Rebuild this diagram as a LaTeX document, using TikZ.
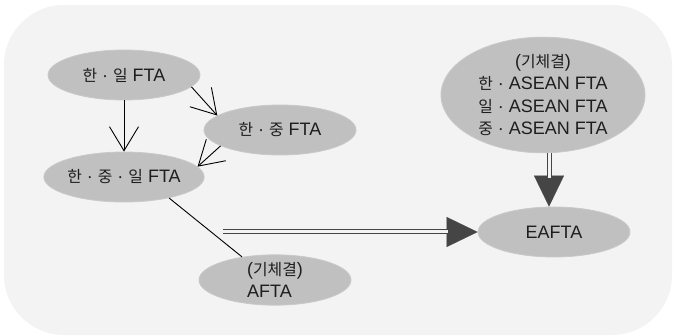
\documentclass[tikz,border=0pt]{standalone}
\usepackage{fontspec}
\setmainfont{Liberation Sans}
\newfontfamily\kr{Noto Sans CJK KR}[Scale=0.88]
\usetikzlibrary{arrows.meta,shapes.geometric}
\definecolor{bgc}{HTML}{F3F3F3}
\definecolor{ellfill}{HTML}{C0C0C0}
\definecolor{elldraw}{HTML}{C9C9C9}
\definecolor{txt}{HTML}{1E1E1E}
\definecolor{dbl}{HTML}{454545}
\begin{document}
\begin{tikzpicture}[x=1pt,y=-1pt,
  ell/.style={ellipse, fill=ellfill, draw=elldraw, line width=0.8pt, inner sep=0pt,
    minimum width=152pt, minimum height=50pt, text=txt, align=center,
    font=\fontsize{18}{22.5}\selectfont},
  openarr/.style={line width=0.9pt, draw=black, -{Straight Barb[length=24pt,width=29pt,line width=0.9pt]}},
  plainline/.style={line width=0.9pt, draw=black},
  headonly/.style={draw=dbl, fill=dbl, line width=0.1pt, -{Triangle[length=31pt,width=30pt,fill=dbl]}},
  dblline/.style={draw=dbl, line width=1pt, double=bgc, double distance=3pt},
]
\useasboundingbox (0,0) rectangle (674,336);
\fill[bgc, rounded corners=60pt] (4,5) rectangle (672,335);

\node[ell] (n1) at (124,75) {{\kr 한} · {\kr 일} FTA};
\node[ell] (n2) at (280,130) {{\kr 한} · {\kr 중} FTA};
\node[ell] (n3) at (124,177) {{\kr 한} · {\kr 중} · {\kr 일} FTA};
\node[ell, align=left] (n4) at (275,280) {({\kr 기체결})\\AFTA};
\node[ell, minimum width=204pt, minimum height=114pt] (n5) at (543,95)
  {({\kr 기체결})\\{\kr 한} · ASEAN FTA\\{\kr 일} · ASEAN FTA\\{\kr 중} · ASEAN FTA};
\node[ell] (n6) at (554,232) {EAFTA};

\draw[openarr] (n1.south) -- (n3.north);
\draw[openarr] (n1.-10) -- (n2.167);
\draw[openarr] (n2.195) -- (n3.8);
\draw[plainline] (n3.-25) -- (n4.145);

\coordinate (m) at (223,232);
\draw[headonly] (m) -- (n6.west);
\draw[dblline, shorten >=30pt] (m) -- (n6.west);
\draw[headonly] ([xshift=6pt]n5.south) -- ([xshift=-5pt]n6.north);
\draw[dblline, shorten >=29pt] ([xshift=6pt]n5.south) -- ([xshift=-5pt]n6.north);
\end{tikzpicture}
\end{document}
